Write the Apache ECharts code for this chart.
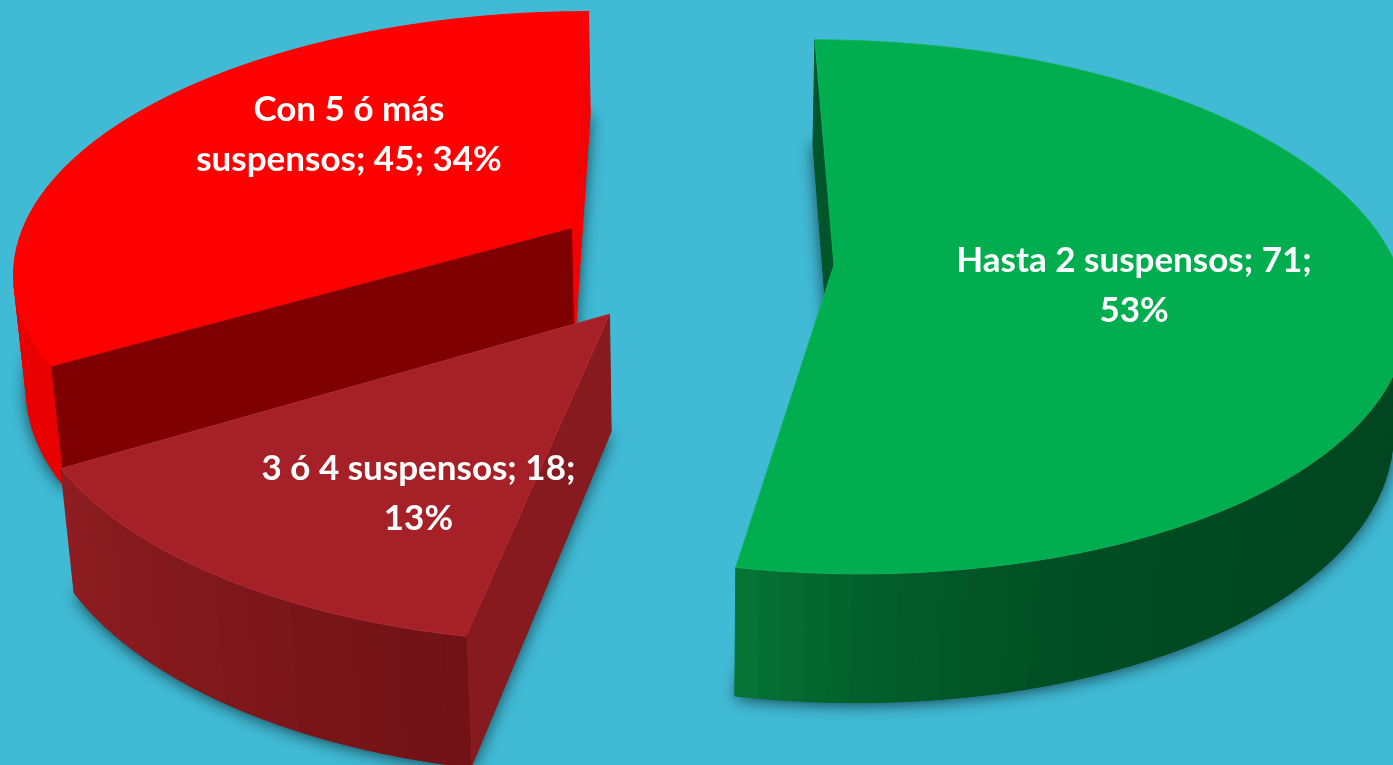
<!DOCTYPE html>
<html><head><meta charset="utf-8">
<style>html,body{margin:0;padding:0;background:#40BAD5}#c{width:1393px;height:765px}</style>
<script src="https://cdn.jsdelivr.net/npm/echarts@6/dist/echarts.min.js"></script>
</head><body><div id="c"></div>
<script>
const categories = ['Hasta 2 suspensos', '3 ó 4 suspensos', 'Con 5 ó más suspensos'];
const values = [71, 18, 45];
const percents = [53, 13, 34];
const lineBreakBefore = ['53%', '13%', 'suspensos;'];

// presentation
const topColors = ['#00AE50', '#A52127', '#FF0000'];
const topEdges = ['#10B35A', '#B32C33', '#FF0000'];
const wallFrom = [[0,70,32], [112,18,22], [232,0,0]];   // outer wall shade at slice start -> end
const wallTo = [[6,118,54], [142,29,33], [250,0,0]];
const wallPow = [10, 1, 1];
const startWall = ['#00562A', '#861A1E', '#7F0000'];
const endWall = ['#006A30', '#861A1E', '#F60000'];
const labelRho = [0.53, 0.62, 0.55];
const labelShift = [[0,8],[40,27],[24,-28]];

const CAM = {sx:693, sy:259, scale:560, tilt:27.5*Math.PI/180, dist:5.7, height:0.235, explode:0.252, rot:0};
function project(X, Y, Z){
  const c=Math.cos(CAM.tilt), s=Math.sin(CAM.tilt);
  const yc=Y*s+Z*c, depth=Y*c-Z*s;
  const k=CAM.scale*CAM.dist/(CAM.dist+depth);
  return [CAM.sx+X*k, CAM.sy-yc*k];
}
const total = values.reduce((a,b)=>a+b,0);
const edges = values.reduce((acc,v)=>{acc.push(acc[acc.length-1]+v);return acc;},[0])
  .map(v=>echarts.number.linearMap(v,[0,total],[CAM.rot,CAM.rot+Math.PI*2]));
const mids = values.map((_,i)=>(edges[i]+edges[i+1])/2);
const depthOrder = mids.map((m,i)=>[Math.cos(m),i]).sort((a,b)=>b[0]-a[0]).map(d=>d[1]);

function area(p){let a=0;for(let i=0;i<p.length;i++){const q=p[(i+1)%p.length];a+=p[i][0]*q[1]-q[0]*p[i][1];}return a/2;}
function rgb(a,b,t){return 'rgb('+a.map((v,i)=>Math.round(v+(b[i]-v)*t)).join(',')+')';}

function renderItem(params, api){
  const i=params.dataIndex, a0=edges[i], a1=edges[i+1], m=mids[i];
  const ox=Math.sin(m)*CAM.explode, oy=Math.cos(m)*CAM.explode, h=CAM.height;
  const P=(r,a,z)=>project(ox+r*Math.sin(a),oy+r*Math.cos(a),z);
  const rank=depthOrder.indexOf(i)*10;
  const steps=Math.max(8,Math.round((a1-a0)/(2*Math.PI/180)));
  const arc=(z)=>{const o=[];for(let s=0;s<=steps;s++)o.push(P(1,a0+(a1-a0)*s/steps,z));return o;};
  const top=arc(0), bot=arc(-h), c0=P(0,0,0), c1=P(0,0,-h);
  const kids=[];
  kids.push({type:'polygon',z2:rank,silent:true,shape:{points:[c1].concat(bot)},
    style:{fill:rgb(wallFrom[i],wallFrom[i],0),shadowBlur:16,shadowColor:'rgba(0,0,0,0.65)',shadowOffsetX:0,shadowOffsetY:2}});
  const orient=area([c0].concat(top));
  const addQuad=(q,fill)=>{ if(area(q)*orient>0) kids.push({type:'polygon',z2:rank+1,silent:true,shape:{points:q},style:{fill,stroke:fill,lineWidth:1}}); };
  addQuad([top[0],c0,c1,bot[0]],startWall[i]);
  addQuad([c0,top[steps],bot[steps],c1],endWall[i]);
  for(let s=0;s<steps;s++){
    const t=(s+0.5)/steps;
    addQuad([top[s+1],top[s],bot[s],bot[s+1]],rgb(wallFrom[i],wallTo[i],Math.pow(t,wallPow[i])));
  }
  kids.push({type:'polygon',z2:rank+2,silent:true,shape:{points:[c0].concat(top)},
    style:{fill:topColors[i],stroke:topEdges[i],lineWidth:1,lineJoin:'round'}});
  const lp=P(labelRho[i],m,0);
  const txt=(categories[i]+'; '+api.value(0)+'; '+percents[i]+'%').replace(' '+lineBreakBefore[i],'\n'+lineBreakBefore[i]);
  kids.push({type:'text',z2:100,silent:true,style:{text:txt,x:lp[0]+labelShift[i][0],y:lp[1]+labelShift[i][1],
    fill:'#fff',font:'700 35px Lato',align:'center',verticalAlign:'middle',lineHeight:50}});
  return {type:'group',children:kids};
}
const chart=echarts.init(document.getElementById('c'),null,{renderer:'canvas'});
chart.setOption({
  backgroundColor:'#40BAD5',animation:false,
  series:[{type:'custom',coordinateSystem:'none',renderItem,clip:false,
    data:values.map((v,i)=>({name:categories[i],value:[v]}))}]
});
</script></body></html>
